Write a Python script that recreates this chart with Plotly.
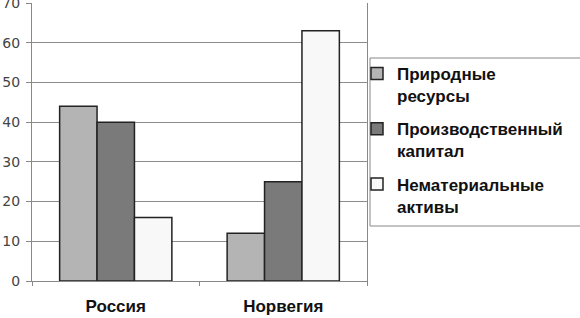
import plotly.graph_objects as go

categories = ["Россия", "Норвегия"]
series_names = ["Природные<br>ресурсы", "Производственный<br>капитал", "Нематериальные<br>активы"]
natural = [44, 12]
produced = [40, 25]
intangible = [16, 63]
colors = ["#b4b4b4", "#7a7a7a", "#f8f8f8"]
y_ticks = [0, 10, 20, 30, 40, 50, 60, 70]

L, R, T, B = 32, 213, 3, 37
W, H = 580, 318
pw, ph = W - L - R, H - T - B

def px_x(p):
    return (p - L) / pw

def px_y(p):
    return (H - B - p) / ph

fig = go.Figure()
for i, (name, vals, col) in enumerate(zip(series_names, [natural, produced, intangible], colors)):
    fig.add_trace(go.Bar(x=categories, y=vals, name=name, legendgroup=f"g{i}",
                         marker=dict(color=col, line=dict(color="#222222", width=1.5))))

fig.add_shape(type="rect", xref="paper", yref="paper",
              x0=px_x(370), x1=px_x(583), y0=px_y(226), y1=px_y(58),
              line=dict(color="#888888", width=1), fillcolor="rgba(0,0,0,0)")

fig.update_layout(
    width=W, height=H,
    margin=dict(l=L, r=R, t=T, b=B, autoexpand=False),
    plot_bgcolor="white", paper_bgcolor="white",
    barmode="group", bargap=0.33, bargroupgap=0,
    showlegend=True,
    legend=dict(x=px_x(357), y=px_y(56), xanchor="left", yanchor="top",
                borderwidth=0, bgcolor="rgba(0,0,0,0)", valign="top",
                font=dict(family="Liberation Sans", size=17, color="#111111", weight="bold"),
                tracegroupgap=8),
    xaxis=dict(showline=True, linecolor="#888888", ticks="outside", tickson="boundaries",
               ticklen=4, tickcolor="#888888", showgrid=False, ticklabelstandoff=10,
               tickfont=dict(family="Liberation Sans", size=17, color="#111111", weight="bold"),
               range=[-0.5, 1.5], automargin=False),
    yaxis=dict(range=[0, 70], tickmode="array", tickvals=y_ticks, showgrid=True, gridcolor="#8c8c8c",
               showline=True, linecolor="#888888", mirror=True, ticks="outside", ticklen=5,
               tickcolor="#888888", ticklabeloverflow="allow", automargin=False, ticklabelstandoff=3,
               tickfont=dict(family="DejaVu Sans", size=14, color="#444444"), zeroline=False),
)
fig.write_html("out.html", config={"displayModeBar": False},
               post_script="document.body.style.margin='0';document.body.style.overflow='hidden';")
